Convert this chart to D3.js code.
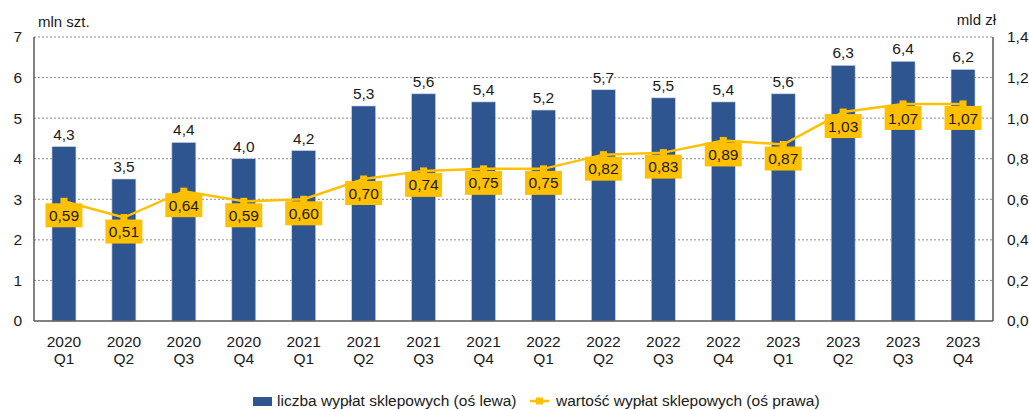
<!DOCTYPE html>
<html>
<head>
<meta charset="utf-8">
<script src="https://cdn.jsdelivr.net/npm/d3@7"></script>
<style>
  body { margin: 0; background: #fff; }
  text { font-family: "Liberation Sans", Arial, sans-serif; fill: #1a1a1a; }
</style>
</head>
<body>
<div id="chart"></div>
<script>
// chart data
const years = ['2020','2020','2020','2020','2021','2021','2021','2021','2022','2022','2022','2022','2023','2023','2023','2023'];
const quarters = ['Q1','Q2','Q3','Q4','Q1','Q2','Q3','Q4','Q1','Q2','Q3','Q4','Q1','Q2','Q3','Q4'];
const counts = [4.3, 3.5, 4.4, 4.0, 4.2, 5.3, 5.6, 5.4, 5.2, 5.7, 5.5, 5.4, 5.6, 6.3, 6.4, 6.2];
const values = [0.59, 0.51, 0.64, 0.59, 0.60, 0.70, 0.74, 0.75, 0.75, 0.82, 0.83, 0.89, 0.87, 1.03, 1.07, 1.07];
const leftTicks = [0, 1, 2, 3, 4, 5, 6, 7];
const rightTicks = [0, 0.2, 0.4, 0.6, 0.8, 1.0, 1.2, 1.4];
const legendLabels = ['liczba wypłat sklepowych (oś lewa)', 'wartość wypłat sklepowych (oś prawa)'];

const width = 1029, height = 410;
const plotL = 34, plotR = 993, plotT = 37, plotB = 321;
const barColor = '#2E5590', lineColor = '#FFC000';
const fs = 15.5;
const fmt1 = d => d3.format('.1f')(d).replace('.', ',');
const fmt2 = d => d3.format('.2f')(d).replace('.', ',');

const svg = d3.select('#chart').append('svg')
  .attr('width', width).attr('height', height);

const x = d3.scaleBand().domain(d3.range(counts.length)).range([plotL, plotR]).paddingInner(0.6).paddingOuter(0.3);
const yL = d3.scaleLinear().domain([0, 7]).range([plotB, plotT]);
const yR = d3.scaleLinear().domain([0, 1.4]).range([plotB, plotT]);
const cx = i => x(i) + x.bandwidth() / 2;

// gridlines
svg.append('g').selectAll('line').data(leftTicks.slice(1)).enter().append('line')
  .attr('x1', plotL).attr('x2', plotR)
  .attr('y1', d => yL(d)).attr('y2', d => yL(d))
  .attr('stroke', '#8c8c8c').attr('stroke-width', 1).attr('stroke-dasharray', '2,2');

// bars
svg.append('g').selectAll('rect').data(counts).enter().append('rect')
  .attr('x', (d, i) => x(i)).attr('width', x.bandwidth())
  .attr('y', d => yL(d)).attr('height', d => plotB - yL(d))
  .attr('fill', barColor).attr('stroke', '#c9d5ea').attr('stroke-width', 0.6);

svg.append('g').selectAll('text').data(counts).enter().append('text')
  .attr('x', (d, i) => cx(i)).attr('y', d => yL(d) - 7)
  .attr('text-anchor', 'middle').attr('font-size', fs)
  .text(fmt1);

// axes
const axL = svg.append('g').attr('transform', `translate(${plotL},0)`)
  .call(d3.axisLeft(yL).tickValues(leftTicks).tickSize(0).tickPadding(12).tickFormat(d3.format('d')));
const axR = svg.append('g').attr('transform', `translate(${plotR},0)`)
  .call(d3.axisRight(yR).tickValues(rightTicks).tickSize(0).tickPadding(14).tickFormat(fmt1));
[axL, axR].forEach(a => {
  a.select('.domain').attr('stroke', '#595959').attr('stroke-width', 1.5).attr('d', `M0,${plotT}V${plotB}`);
  a.selectAll('text').attr('font-size', fs).attr('font-family', '"Liberation Sans", Arial, sans-serif').attr('fill', '#1a1a1a');
});
svg.append('line').attr('x1', plotL).attr('x2', plotR).attr('y1', plotB).attr('y2', plotB)
  .attr('stroke', '#595959').attr('stroke-width', 1.5);

// category labels
const cat = svg.append('g').selectAll('text').data(years).enter().append('text')
  .attr('text-anchor', 'middle').attr('font-size', fs)
  .attr('x', (d, i) => cx(i));
cat.append('tspan').attr('y', 347).text(d => d);
cat.append('tspan').attr('x', (d, i) => cx(i)).attr('y', 364).text((d, i) => quarters[i]);

// line series
const line = d3.line().x((d, i) => cx(i)).y(d => yR(d));
svg.append('path').datum(values).attr('d', line)
  .attr('fill', 'none').attr('stroke', lineColor).attr('stroke-width', 2.5);
svg.append('g').selectAll('rect').data(values).enter().append('rect')
  .attr('x', (d, i) => cx(i) - 3.5).attr('y', d => yR(d) - 3.5)
  .attr('width', 7).attr('height', 7).attr('fill', lineColor);

// value boxes
const box = svg.append('g').selectAll('g').data(values).enter().append('g')
  .attr('transform', (d, i) => `translate(${cx(i)},${yR(d) + 14})`);
box.append('rect').attr('x', -18.5).attr('y', -12).attr('width', 37).attr('height', 24).attr('fill', lineColor);
box.append('text').attr('text-anchor', 'middle').attr('dy', '0.36em').attr('font-size', fs).text(fmt2);

// unit labels
svg.append('text').attr('x', 38).attr('y', 27).attr('font-size', 15).text('mln szt.');
svg.append('text').attr('x', 996).attr('y', 25).attr('font-size', 15).attr('text-anchor', 'end').text('mld zł');

// legend (nudged up a little so descenders are not cut off)
const lg = svg.append('g').attr('transform', 'translate(0,401)');
lg.append('rect').attr('x', 253).attr('y', -4).attr('width', 19).attr('height', 9).attr('fill', barColor);
lg.append('text').attr('x', 277).attr('y', 0).attr('dy', '0.35em').attr('font-size', fs).text(legendLabels[0]);
lg.append('line').attr('x1', 530).attr('x2', 549).attr('y1', 0).attr('y2', 0).attr('stroke', lineColor).attr('stroke-width', 2.5);
lg.append('rect').attr('x', 536).attr('y', -3.5).attr('width', 7).attr('height', 7).attr('fill', lineColor);
lg.append('text').attr('x', 556).attr('y', 0).attr('dy', '0.35em').attr('font-size', fs).text(legendLabels[1]);
</script>
</body>
</html>
